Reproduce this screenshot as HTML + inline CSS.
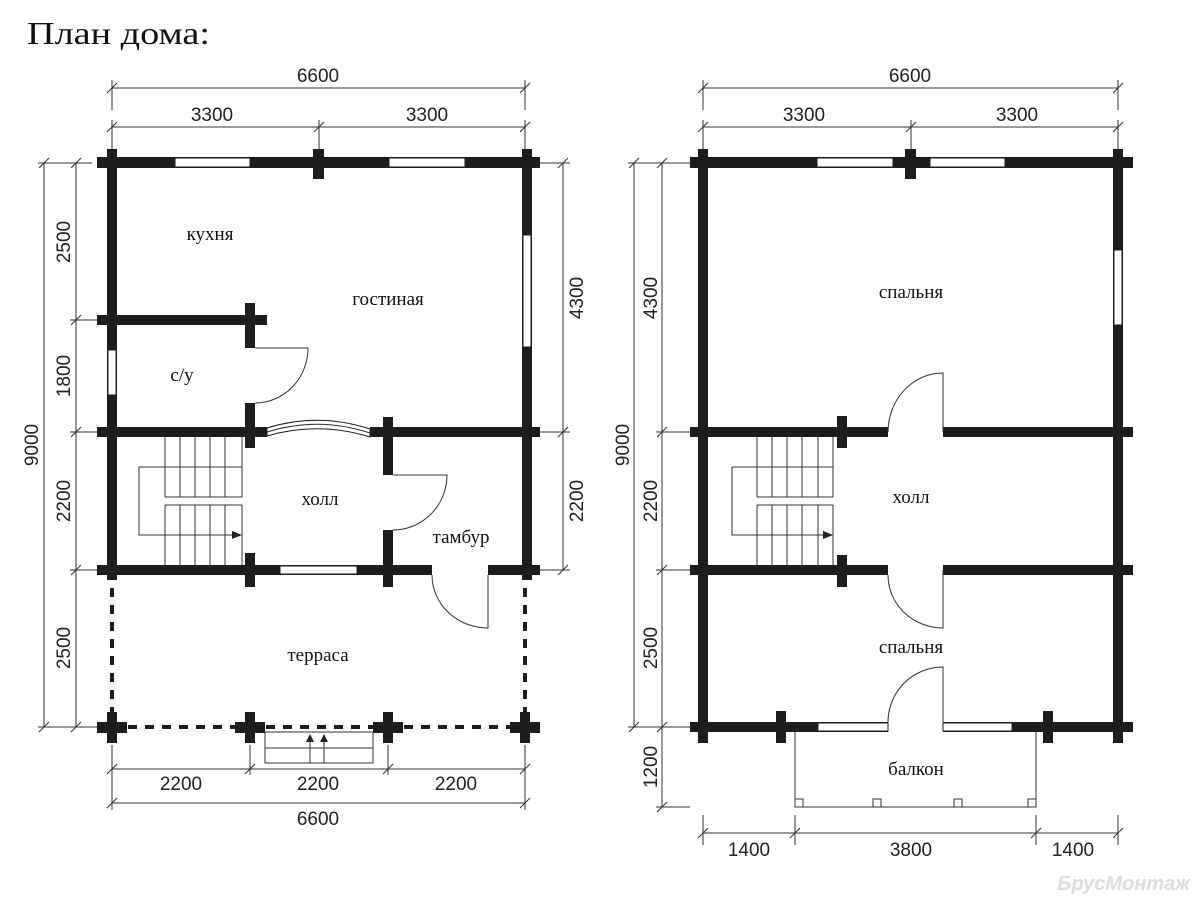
<!DOCTYPE html>
<html><head><meta charset="utf-8"><style>
html,body{margin:0;padding:0;background:#fff;}
svg{display:block;}
.w{fill:#1d1d1d;}
.win{fill:#fff;stroke:#1d1d1d;stroke-width:1;}
.d{font-family:"Liberation Sans",sans-serif;font-size:19px;fill:#222;}
.l{font-family:"Liberation Serif","DejaVu Serif",serif;font-size:19px;fill:#111;}
.thin{stroke:#333;stroke-width:1;fill:none;}
.dash{stroke:#1d1d1d;stroke-width:4;stroke-dasharray:9 8;fill:none;}
</style></head><body>
<svg width="1200" height="900" viewBox="0 0 1200 900" xmlns="http://www.w3.org/2000/svg">
<text x="27" y="44" font-family="Liberation Serif,serif" font-size="32" fill="#111" textLength="183" lengthAdjust="spacingAndGlyphs">План дома:</text>

<!-- ============ LEFT PLAN ============ -->
<g class="thin">
<line x1="112" y1="88" x2="525" y2="88"/><line x1="112" y1="80" x2="112" y2="110"/><line x1="525" y1="80" x2="525" y2="110"/>
<line x1="112" y1="127" x2="525" y2="127"/><line x1="112" y1="120" x2="112" y2="150"/><line x1="319" y1="120" x2="319" y2="150"/><line x1="525" y1="120" x2="525" y2="150"/>
<line x1="44" y1="163" x2="44" y2="727"/><line x1="76" y1="163" x2="76" y2="727"/>
<line x1="38" y1="163" x2="92" y2="163"/><line x1="70" y1="320" x2="97" y2="320"/><line x1="70" y1="432" x2="97" y2="432"/><line x1="70" y1="570" x2="97" y2="570"/><line x1="38" y1="727" x2="97" y2="727"/>
<line x1="563" y1="163" x2="563" y2="570"/><line x1="540" y1="163" x2="570" y2="163"/><line x1="540" y1="432" x2="570" y2="432"/><line x1="540" y1="570" x2="570" y2="570"/>
<line x1="112" y1="769" x2="525" y2="769"/><line x1="112" y1="803" x2="525" y2="803"/>
<line x1="112" y1="745" x2="112" y2="810"/><line x1="250" y1="745" x2="250" y2="775"/><line x1="388" y1="745" x2="388" y2="775"/><line x1="525" y1="745" x2="525" y2="810"/>
<path d="M107 93L117 83M520 93L530 83M107 132L117 122M314 132L324 122M520 132L530 122M39 168L49 158M71 168L81 158M71 325L81 315M71 437L81 427M71 575L81 565M39 732L49 722M71 732L81 722M558 168L568 158M558 437L568 427M558 575L568 565M107 774L117 764M245 774L255 764M383 774L393 764M520 774L530 764M107 808L117 798M520 808L530 798"/>
</g>
<text class="d" x="318" y="82" text-anchor="middle">6600</text>
<text class="d" x="212" y="121" text-anchor="middle">3300</text>
<text class="d" x="427" y="121" text-anchor="middle">3300</text>
<text class="d" transform="translate(38,445) rotate(-90)" text-anchor="middle">9000</text>
<text class="d" transform="translate(70,242) rotate(-90)" text-anchor="middle">2500</text>
<text class="d" transform="translate(70,376) rotate(-90)" text-anchor="middle">1800</text>
<text class="d" transform="translate(70,501) rotate(-90)" text-anchor="middle">2200</text>
<text class="d" transform="translate(70,648) rotate(-90)" text-anchor="middle">2500</text>
<text class="d" transform="translate(583,298) rotate(-90)" text-anchor="middle">4300</text>
<text class="d" transform="translate(583,501) rotate(-90)" text-anchor="middle">2200</text>
<text class="d" x="181" y="790" text-anchor="middle">2200</text>
<text class="d" x="318" y="790" text-anchor="middle">2200</text>
<text class="d" x="456" y="790" text-anchor="middle">2200</text>
<text class="d" x="318" y="825" text-anchor="middle">6600</text>

<g class="w">
<rect x="97" y="157" width="443" height="11"/>
<rect x="107" y="149" width="10" height="431"/>
<rect x="522" y="149" width="10" height="431"/>
<rect x="313" y="149" width="11" height="30"/>
<rect x="97" y="315" width="170" height="10"/>
<rect x="245" y="303" width="10" height="45"/>
<rect x="245" y="403" width="10" height="45"/>
<rect x="97" y="427" width="170" height="10"/>
<rect x="370" y="427" width="170" height="10"/>
<rect x="383" y="417" width="10" height="58"/>
<rect x="383" y="530" width="10" height="57"/>
<rect x="97" y="565" width="335" height="10"/>
<rect x="488" y="565" width="52" height="10"/>
<rect x="245" y="553" width="10" height="34"/>
</g>
<rect class="win" x="175" y="158" width="75" height="9"/>
<rect class="win" x="389" y="158" width="76" height="9"/>
<rect class="win" x="523" y="235" width="8" height="112"/>
<rect class="win" x="108" y="350" width="8" height="45"/>
<rect class="win" x="280" y="566" width="77" height="8"/>
<path d="M267 428 Q318 412 370 429 L370 437 Q318 421 267 436Z" fill="#fff" stroke="#1d1d1d" stroke-width="1"/>
<path d="M267 432 Q318 416 370 433" class="thin"/>
<g class="thin" stroke="#222">
<path d="M255 348 L308 348 A53 55 0 0 1 255 403"/>
<path d="M393 475 L447 475 A54 55 0 0 1 393 530"/>
<path d="M488 575 L488 628 A56 53 0 0 1 432 575"/>
</g>
<g class="thin" stroke="#222">
<path d="M165 437V497M180 437V497M195 437V497M210 437V497M225 437V497M242 437V497"/>
<path d="M165 505V565M180 505V565M195 505V565M210 505V565M225 505V565M242 505V565"/>
<path d="M139 467H242M165 497H242M165 505H242"/>
<path d="M139 467V535H236"/>
</g>
<path d="M232 531L242 535L232 539Z" fill="#222"/>
<path class="dash" d="M112 588V712M525 588V712M128 727H238M266 727H376M404 727H510"/>
<g class="w">
<rect x="97" y="722" width="30" height="11"/><rect x="107" y="712" width="10" height="31"/>
<rect x="235" y="722" width="30" height="11"/><rect x="245" y="712" width="10" height="31"/>
<rect x="373" y="722" width="30" height="11"/><rect x="383" y="712" width="10" height="31"/>
<rect x="510" y="722" width="30" height="11"/><rect x="520" y="712" width="10" height="31"/>
</g>
<g class="thin" stroke="#222">
<rect x="265" y="732" width="108" height="31"/>
<line x1="265" y1="748" x2="373" y2="748"/>
<line x1="310" y1="763" x2="310" y2="740"/><line x1="324" y1="763" x2="324" y2="740"/>
</g>
<path d="M306 742L310 734L314 742ZM320 742L324 734L328 742Z" fill="#222"/>
<text class="l" x="210" y="240" text-anchor="middle">кухня</text>
<text class="l" x="388" y="305" text-anchor="middle">гостиная</text>
<text class="l" x="182" y="381" text-anchor="middle">с/у</text>
<text class="l" x="320" y="505" text-anchor="middle">холл</text>
<text class="l" x="461" y="543" text-anchor="middle">тамбур</text>
<text class="l" x="318" y="661" text-anchor="middle">терраса</text>

<!-- ============ RIGHT PLAN ============ -->
<g class="thin">
<line x1="703" y1="88" x2="1118" y2="88"/><line x1="703" y1="80" x2="703" y2="110"/><line x1="1118" y1="80" x2="1118" y2="110"/>
<line x1="703" y1="127" x2="1118" y2="127"/><line x1="703" y1="120" x2="703" y2="150"/><line x1="911" y1="120" x2="911" y2="150"/><line x1="1118" y1="120" x2="1118" y2="150"/>
<line x1="634" y1="163" x2="634" y2="727"/><line x1="662" y1="163" x2="662" y2="807"/>
<line x1="628" y1="163" x2="690" y2="163"/><line x1="656" y1="432" x2="690" y2="432"/><line x1="656" y1="570" x2="690" y2="570"/><line x1="628" y1="727" x2="690" y2="727"/><line x1="656" y1="807" x2="690" y2="807"/>
<line x1="703" y1="833" x2="1118" y2="833"/>
<line x1="703" y1="815" x2="703" y2="845"/><line x1="795" y1="815" x2="795" y2="845"/><line x1="1036" y1="815" x2="1036" y2="845"/><line x1="1118" y1="815" x2="1118" y2="845"/>
<path d="M698 93L708 83M1113 93L1123 83M698 132L708 122M906 132L916 122M1113 132L1123 122M629 168L639 158M657 168L667 158M657 437L667 427M657 575L667 565M629 732L639 722M657 732L667 722M657 812L667 802M698 838L708 828M790 838L800 828M1031 838L1041 828M1113 838L1123 828"/>
</g>
<text class="d" x="910" y="82" text-anchor="middle">6600</text>
<text class="d" x="804" y="121" text-anchor="middle">3300</text>
<text class="d" x="1017" y="121" text-anchor="middle">3300</text>
<text class="d" transform="translate(629,445) rotate(-90)" text-anchor="middle">9000</text>
<text class="d" transform="translate(657,298) rotate(-90)" text-anchor="middle">4300</text>
<text class="d" transform="translate(657,501) rotate(-90)" text-anchor="middle">2200</text>
<text class="d" transform="translate(657,648) rotate(-90)" text-anchor="middle">2500</text>
<text class="d" transform="translate(657,767) rotate(-90)" text-anchor="middle">1200</text>
<text class="d" x="749" y="856" text-anchor="middle">1400</text>
<text class="d" x="911" y="856" text-anchor="middle">3800</text>
<text class="d" x="1073" y="856" text-anchor="middle">1400</text>

<g class="w">
<rect x="690" y="157" width="443" height="11"/>
<rect x="698" y="149" width="10" height="594"/>
<rect x="1113" y="149" width="10" height="594"/>
<rect x="905" y="149" width="11" height="30"/>
<rect x="690" y="427" width="198" height="10"/>
<rect x="943" y="427" width="190" height="10"/>
<rect x="690" y="565" width="198" height="10"/>
<rect x="943" y="565" width="190" height="10"/>
<rect x="837" y="416" width="10" height="32"/>
<rect x="837" y="555" width="10" height="32"/>
<rect x="690" y="722" width="443" height="10"/>
<rect x="776" y="711" width="10" height="32"/>
<rect x="1043" y="711" width="10" height="32"/>
</g>
<rect x="888" y="721" width="55" height="12" fill="#fff"/>
<rect class="win" x="817" y="158" width="76" height="9"/>
<rect class="win" x="930" y="158" width="75" height="9"/>
<rect class="win" x="1114" y="250" width="8" height="75"/>
<rect class="win" x="818" y="723" width="70" height="8"/>
<rect class="win" x="943" y="723" width="69" height="8"/>
<g class="thin" stroke="#222">
<path d="M943 432 L943 373 A55 59 0 0 0 888 432"/>
<path d="M943 570 L943 628 A55 53 0 0 1 888 575"/>
<path d="M943 722 L943 667 A55 55 0 0 0 888 722"/>
</g>
<g class="thin" stroke="#222">
<path d="M757 437V497M772 437V497M787 437V497M802 437V497M818 437V497M833 437V497"/>
<path d="M757 505V565M772 505V565M787 505V565M802 505V565M818 505V565M833 505V565"/>
<path d="M732 467H833M757 497H833M757 505H833"/>
<path d="M732 467V535H827"/>
</g>
<path d="M823 531L833 535L823 539Z" fill="#222"/>
<g class="thin" stroke="#222">
<path d="M795 732V807H1036V732"/>
<rect x="795" y="799" width="8" height="8"/><rect x="873" y="799" width="8" height="8"/><rect x="954" y="799" width="8" height="8"/><rect x="1028" y="799" width="8" height="8"/>
</g>
<text class="l" x="911" y="298" text-anchor="middle">спальня</text>
<text class="l" x="911" y="503" text-anchor="middle">холл</text>
<text class="l" x="911" y="653" text-anchor="middle">спальня</text>
<text class="l" x="916" y="775" text-anchor="middle">балкон</text>
<text x="1190" y="890" text-anchor="end" font-family="Liberation Sans,sans-serif" font-style="italic" font-weight="bold" font-size="20" fill="#ddd">БрусМонтаж</text>
</svg>
</body></html>
